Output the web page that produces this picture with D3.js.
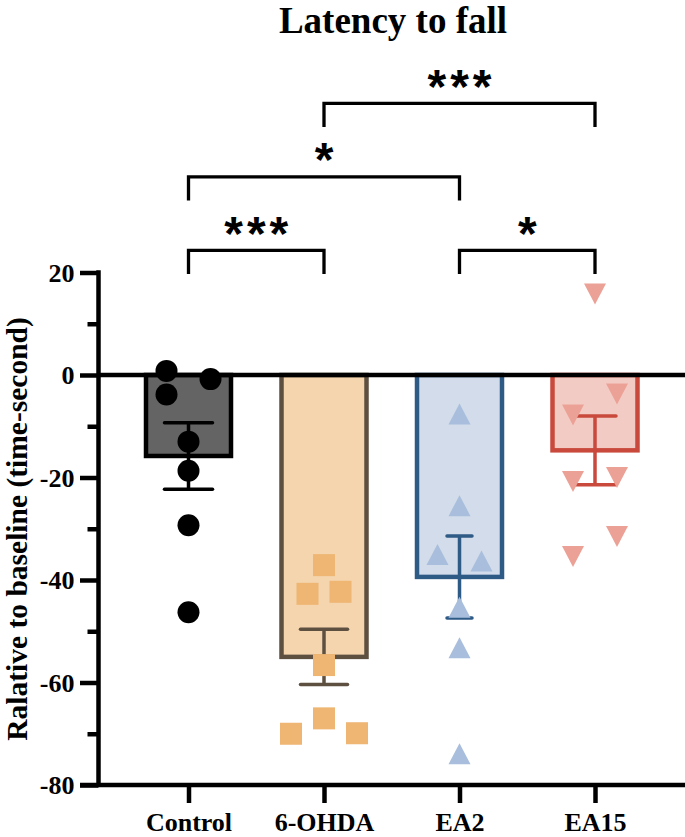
<!DOCTYPE html>
<html><head><meta charset="utf-8">
<script src="https://cdn.jsdelivr.net/npm/d3@7"></script>
<style>
body{margin:0;background:#fff}
.serif{font-family:"Liberation Serif","Tinos","Times New Roman",Times,"DejaVu Serif","Noto Serif",serif;font-weight:bold}
.star{font-family:"Liberation Sans",Arimo,Arial,"DejaVu Sans",sans-serif;font-weight:bold}
</style>
</head><body><svg id="c" width="685" height="837"></svg>
<script>
// ---- data ----
const categories = ["Control", "6-OHDA", "EA2", "EA15"];
const means = [-15.8, -55.0, -39.4, -14.7];
const sems = [6.5, 5.4, 8.0, 6.7];
const controlPts = [0.8, -3.8, -0.8, -13.0, -18.7, -29.3, -46.3];
const ohdaPts = [-37.1, -42.7, -42.3, -56.6, -67.0, -70.0, -69.9];
const ea2Pts = [-7.6, -25.5, -35.0, -36.3, -45.3, -53.2, -73.9];
const ea15Pts = [15.8, -3.7, -7.8, -20.0, -20.8, -31.5, -35.4];
// scatter column slot of each point (dodging of overlapping points)
const controlSlots = [-1, -1, 1, 0, 0, 0, 0];
const ohdaSlots = [0, -0.75, 0.75, 0, 0, -1.5, 1.5];
const ea2Slots = [0, 0, -1, 1, 0, 0, 0];
const ea15Slots = [0, 1, -1, 1, -1, 1, -1];
const yTicks = [-80, -60, -40, -20, 0, 20];
const yMinorTicks = [-70, -50, -30, -10, 10];
const comparisons = [
  {from: "Control", to: "6-OHDA", label: "***", tier: 0},
  {from: "EA2", to: "EA15", label: "*", tier: 0},
  {from: "Control", to: "EA2", label: "*", tier: 1},
  {from: "6-OHDA", to: "EA15", label: "***", tier: 2}
];
const title = "Latency to fall";
const yLabel = "Ralative to baseline (time-second)";

// ---- styles ----
const fills = ["#646464", "#F5D5AE", "#D2DCEA", "#F2CCC4"];
const strokes = ["#000000", "#5E5040", "#2E5A86", "#C9493C"];
const markerColors = ["#000000", "#EEB573", "#A8BEDC", "#ECA196"];
const capWidths = [48, 47, 25, 42];
const shapes = ["circle", "square", "up", "down"];
const allPts = [controlPts, ohdaPts, ea2Pts, ea15Pts];
const allSlots = [controlSlots, ohdaSlots, ea2Slots, ea15Slots];

const svg = d3.select("#c");
const AX = 98.5, RIGHT = 685;
const y = d3.scaleLinear().domain([-80, 20]).range([785, 272.5]);
const x = d3.scalePoint().domain(categories).range([188.5, 595]);
const barW = 85, slotStep = 22, mk = 22;

// title
svg.append("text").attr("class", "serif").attr("x", 393).attr("y", 33).attr("text-anchor", "middle")
  .style("font-size", "37px").text(title);

// y label
svg.append("text").attr("class", "serif").attr("transform", `translate(26.5,529) rotate(-90)`).attr("text-anchor", "middle")
  .style("font-size", "29.5px").text(yLabel);

// bars
const g = svg.append("g");
categories.forEach((c, i) => {
  g.append("rect")
    .attr("x", x(c) - barW / 2).attr("width", barW)
    .attr("y", y(0)).attr("height", y(means[i]) - y(0))
    .attr("fill", fills[i]).attr("stroke", strokes[i]).attr("stroke-width", 4.5);
});

// error bars
categories.forEach((c, i) => {
  const cx = x(c), lo = y(means[i] - sems[i]), hi = y(means[i] + sems[i]);
  const eg = g.append("g").attr("stroke", strokes[i]).attr("stroke-width", 3.5).attr("fill", "none");
  eg.append("line").attr("x1", cx).attr("x2", cx).attr("y1", hi).attr("y2", lo);
  eg.append("line").attr("x1", cx - capWidths[i] / 2).attr("x2", cx + capWidths[i] / 2).attr("y1", hi).attr("y2", hi).attr("stroke-linecap", "round");
  eg.append("line").attr("x1", cx - capWidths[i] / 2).attr("x2", cx + capWidths[i] / 2).attr("y1", lo).attr("y2", lo).attr("stroke-linecap", "round");
});

// points
categories.forEach((c, i) => {
  allPts[i].forEach((v, j) => {
    const px = x(c) + allSlots[i][j] * slotStep, py = y(v);
    const col = markerColors[i];
    if (shapes[i] === "circle") {
      g.append("circle").attr("cx", px).attr("cy", py).attr("r", mk / 2).attr("fill", col);
    } else if (shapes[i] === "square") {
      g.append("rect").attr("x", px - mk / 2).attr("y", py - mk / 2).attr("width", mk).attr("height", mk).attr("fill", col);
    } else {
      const h = 21, w = 22, s = shapes[i] === "up" ? 1 : -1;
      g.append("path").attr("d", `M${px},${py - s * h / 2}L${px + w / 2},${py + s * h / 2}L${px - w / 2},${py + s * h / 2}Z`).attr("fill", col);
    }
  });
});

// axes
const axW = 4.5;
const yAxis = svg.append("g").attr("transform", `translate(${AX},0)`)
  .call(d3.axisLeft(y).tickValues(yTicks).tickSize(18.5).tickSizeOuter(0).tickFormat(d => String(d)));
yAxis.select(".domain").attr("stroke-width", axW).attr("d", `M0,${y(20) - 2.25}V${y(-80)}`);
yAxis.selectAll(".tick line").attr("stroke-width", axW);
yAxis.selectAll(".tick text").attr("class", "serif").attr("x", -24).attr("dy", "0.34em")
  .style("font-size", "26px");
const yMinor = svg.append("g").attr("transform", `translate(${AX},0)`)
  .call(d3.axisLeft(y).tickValues(yMinorTicks).tickSize(11).tickFormat(""));
yMinor.select(".domain").remove();
yMinor.selectAll(".tick line").attr("stroke-width", axW);

// zero line
svg.append("line").attr("x1", AX).attr("x2", RIGHT).attr("y1", y(0)).attr("y2", y(0))
  .attr("stroke", "#000").attr("stroke-width", axW);

// x axis
const xAxis = svg.append("g").attr("transform", `translate(0,${y(-80)})`)
  .call(d3.axisBottom(x).tickSize(18).tickSizeOuter(0));
xAxis.select(".domain").attr("stroke-width", axW).attr("d", `M${AX - 18.5},0H${RIGHT}`);
xAxis.selectAll(".tick line").attr("stroke-width", axW);
xAxis.selectAll(".tick text").attr("class", "serif").attr("y", 45.5).attr("dy", 0)
  .style("font-size", "26px");
yAxis.attr("font-family", null);
xAxis.attr("font-family", null);

// significance brackets
const baseLevel = 24.3, tierStep = 14.35, legLen = 4.6, ls = 4;
comparisons.forEach(cmp => {
  const x1 = x(cmp.from), x2 = x(cmp.to), lv = baseLevel + cmp.tier * tierStep;
  const yb = y(lv), yl = y(lv - legLen);
  svg.append("path").attr("d", `M${x1},${yl}V${yb}H${x2}V${yl}`)
    .attr("fill", "none").attr("stroke", "#000").attr("stroke-width", 3.3);
  svg.append("text").attr("class", "star").attr("x", (x1 + x2) / 2).attr("y", yb - 0.5)
    .attr("dx", ls / 2)
    .attr("text-anchor", "middle")
    .style("font-size", "48px").style("letter-spacing", ls + "px")
    .text(cmp.label);
});
</script></body></html>
